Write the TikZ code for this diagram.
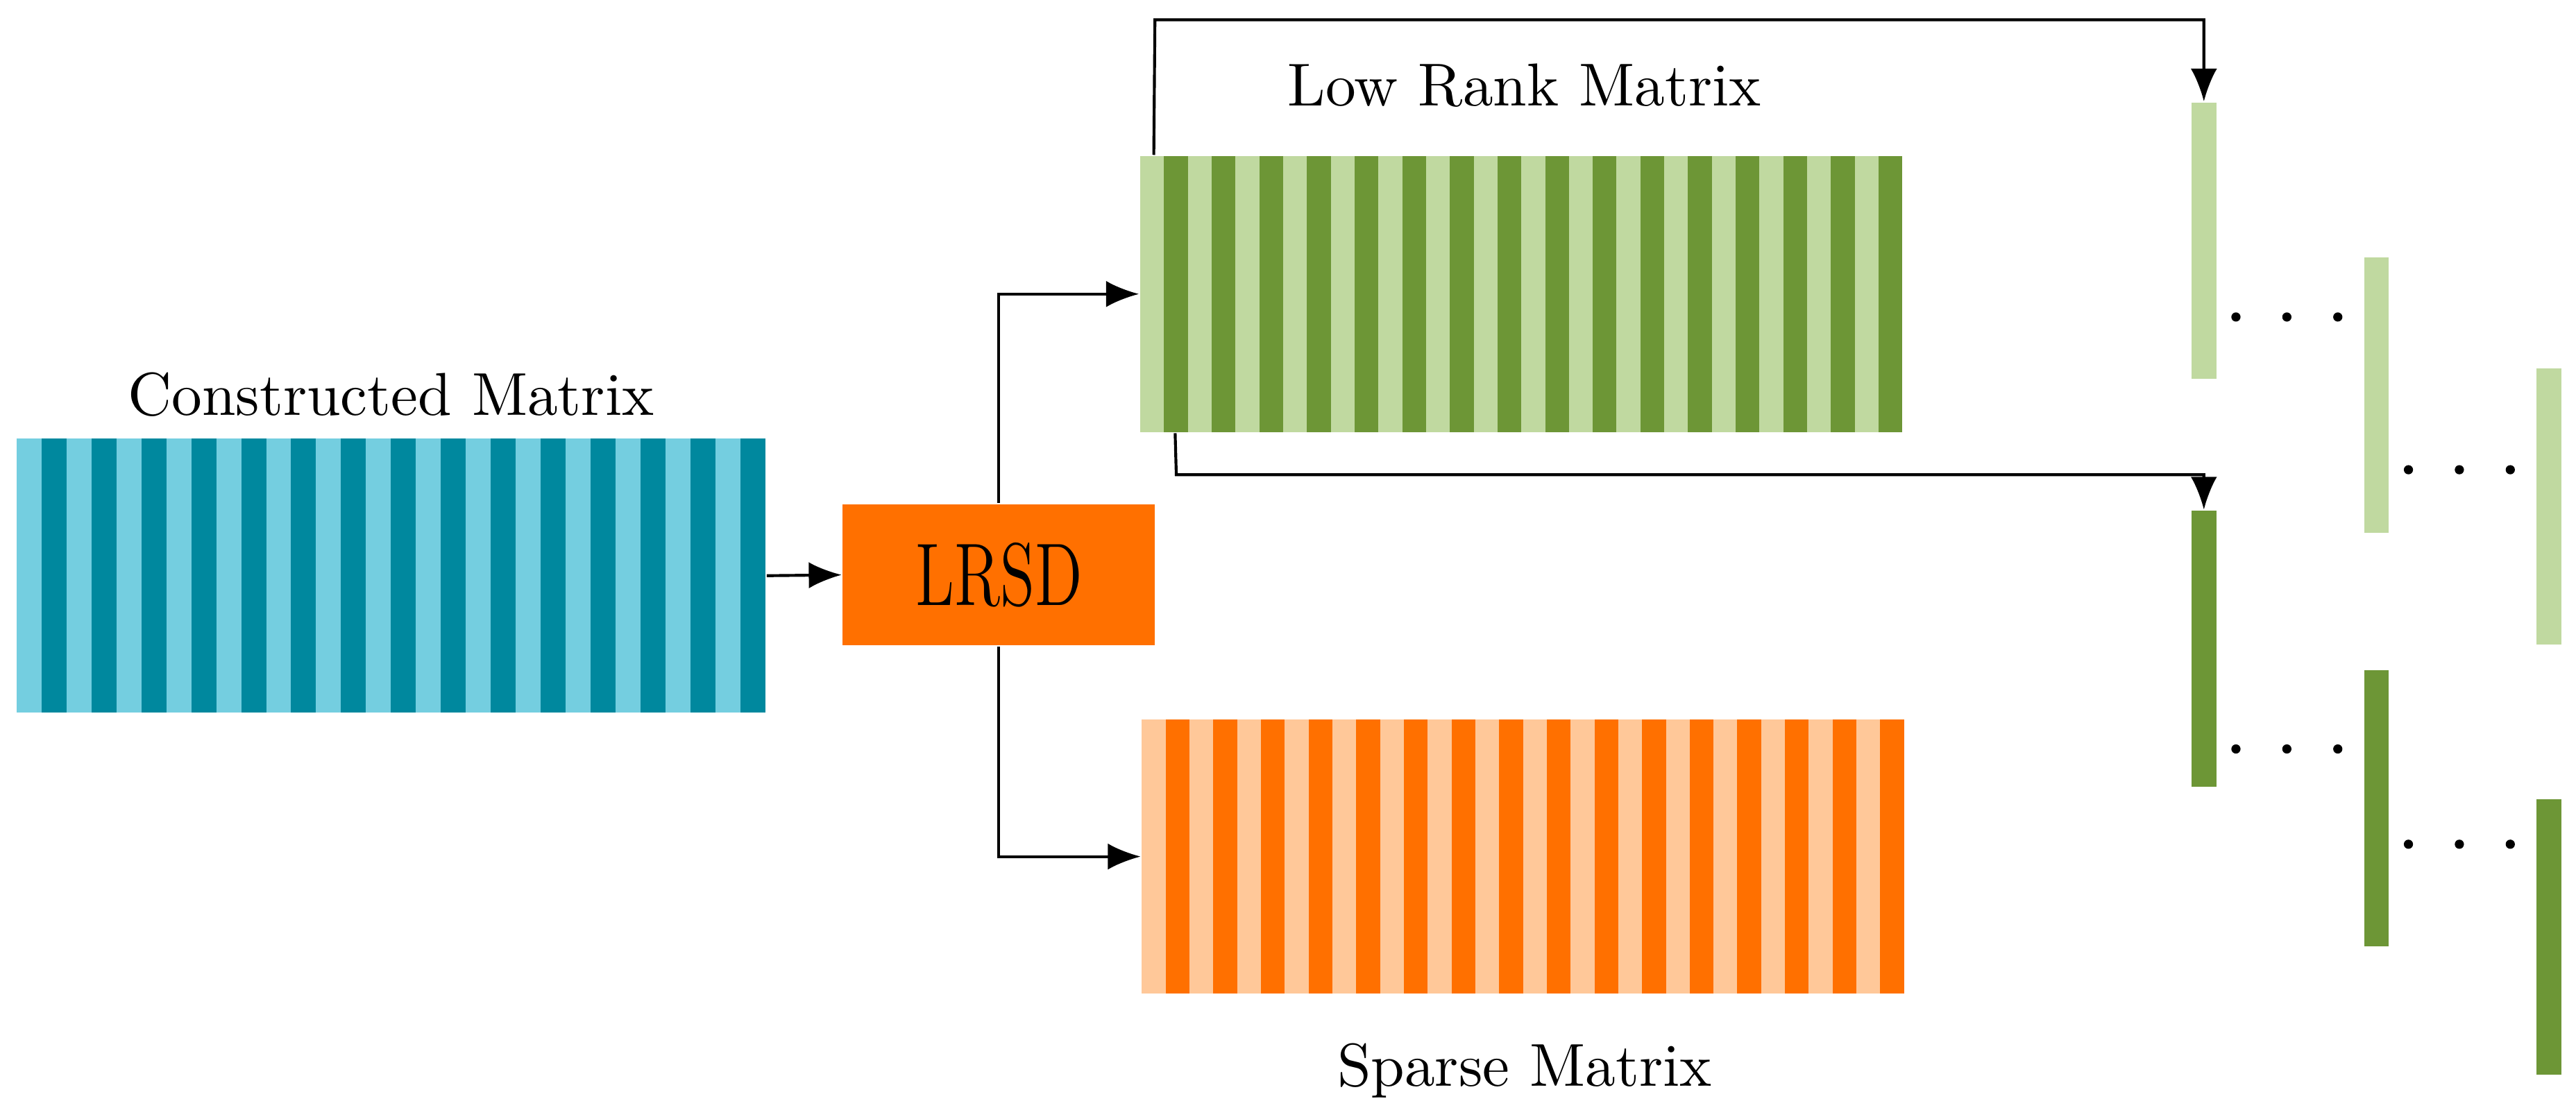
\documentclass[tikz,border=0pt]{standalone}
\usepackage{xcolor}
\usepackage{tikz}
\usetikzlibrary{arrows.meta}
\definecolor{tealL}{HTML}{74CEE0}
\definecolor{tealD}{HTML}{00889E}
\definecolor{greenL}{HTML}{C0D9A0}
\definecolor{greenD}{HTML}{6D9636}
\definecolor{orngL}{HTML}{FFC899}
\definecolor{orngD}{HTML}{FF7000}

\begin{document}
\begin{tikzpicture}[x=0.1mm,y=-0.1mm,
    mat/.style={rectangle, inner sep=0pt, draw=none},
    bar/.style={rectangle, inner sep=0pt, minimum width=1.5mm, minimum height=16.8mm},
    lbl/.style={font=\fontsize{10.5}{12}\selectfont},
    conn/.style={line width=0.5pt, -{Latex[length=2mm,width=1.6mm]}}]
                \useasboundingbox (0,0) rectangle (1568,680);

                % 三个矩阵
                \node[mat, fill=tealL, minimum width=45.6mm, minimum height=16.7mm] (cm) at (238,350.5) {};
                \foreach \i in {0,...,14}
                    \fill[tealD] (10+15.2+\i*30.4,267) rectangle ++(15.2,167);
                \node[mat, fill=greenL, minimum width=46.4mm, minimum height=16.8mm] (lr) at (926,179) {};
                \foreach \i in {0,...,15}
                    \fill[greenD] (694+14.5+\i*29,95) rectangle ++(14.5,168);
                \node[mat, fill=orngL, minimum width=46.4mm, minimum height=16.7mm] (sp) at (927,521.5) {};
                \foreach \i in {0,...,15}
                    \fill[orngD] (695+14.5+\i*29,438) rectangle ++(14.5,167);

                % 标签
                \node[lbl] (cmt) at (238,240) {Constructed Matrix};
                \node[lbl] (lrt) at (928,52) {Low Rank Matrix};
                \node[lbl] (spt) at (928,652) {Sparse Matrix};

                % 分解
                \node[mat, fill=orngD, minimum width=19mm, minimum height=8.6mm,
                      font=\fontsize{11}{13}\selectfont] (lrsd) at (608,350) {\scalebox{1}[1.4]{LRSD}};

                % 列向量
                \node[bar, fill=greenL] (l1) at (1341.5,146.5) {};
                \node[bar, fill=greenL] (l2) at (1446.5,240.5) {};
                \node[bar, fill=greenL] (l3) at (1551.5,308.5) {};
                \node[bar, fill=greenD] (d1) at (1341.5,395) {};
                \node[bar, fill=greenD] (d2) at (1446.5,492) {};
                \node[bar, fill=greenD] (d3) at (1551.5,570.5) {};
                \foreach \x/\y in {1361/193, 1392/193, 1423/193, 1466/286, 1497/286, 1528/286,
                                   1361/456, 1392/456, 1423/456, 1466/514, 1497/514, 1528/514}
                    \fill (\x,\y) circle (0.28mm);

                % 连线
                \draw[conn] (cm.east) -- (lrsd.west);
                \draw[conn] (lrsd.north) |- (lr.west);
                \draw[conn] (lrsd.south) |- (sp.west);
                \coordinate (top) at (703,12);
                \coordinate (mid) at (716,289);
                \draw[conn] (lr.north west) ++(9,0) -- (top) -| (l1.north);
                \draw[conn] (lr.south west) ++(22,0) -- (mid) -| (d1.north);
\end{tikzpicture}
\end{document}
